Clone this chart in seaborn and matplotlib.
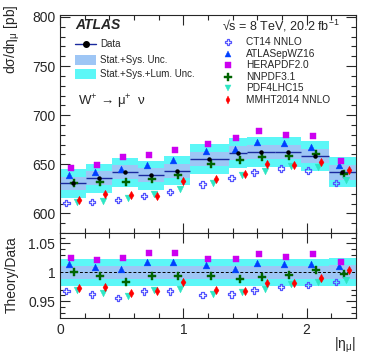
import numpy as np
import pandas as pd
import matplotlib
matplotlib.use("Agg")
import matplotlib.pyplot as plt
from matplotlib.lines import Line2D
from matplotlib.patches import Rectangle
from matplotlib.ticker import MultipleLocator
import seaborn as sns

# |eta_mu| binning and measured W+ -> mu+ nu cross section [pb]
eta_edges = [0.0, 0.21, 0.42, 0.63, 0.84, 1.05, 1.37, 1.52, 1.74, 1.95, 2.18, 2.4]
data_xsec = [630.6, 635.7, 641.8, 638.7, 643.2, 655.1, 661.2, 662.4, 662.2, 658.2, 641.9]
# relative uncertainties
unc_stat_sys = [0.011, 0.011, 0.011, 0.011, 0.011, 0.011, 0.011, 0.011, 0.011, 0.011, 0.012]
unc_stat_sys_lumi = [0.023, 0.023, 0.023, 0.023, 0.023, 0.023, 0.023, 0.023, 0.023, 0.023, 0.024]

# theory / data
ratio_ct14 = [0.968, 0.962, 0.956, 0.967, 0.967, 0.961, 0.962, 0.969, 0.975, 0.978, 0.983]
ratio_atlas = [1.014, 1.010, 1.005, 1.017, 1.018, 1.013, 1.006, 1.016, 1.014, 1.014, 1.011]
ratio_hera = [1.025, 1.022, 1.024, 1.033, 1.033, 1.023, 1.023, 1.032, 1.026, 1.031, 1.018]
ratio_nnpdf = [1.000, 0.994, 0.984, 0.994, 0.993, 0.993, 0.989, 0.992, 0.995, 1.004, 0.997]
ratio_pdf4lhc = [0.970, 0.964, 0.959, 0.970, 0.971, 0.963, 0.966, 0.971, 0.979, 0.983, 0.987]
ratio_mmht = [0.973, 0.975, 0.964, 0.967, 0.984, 0.969, 0.968, 0.982, 0.981, 0.991, 1.004]

pdf_names = ["CT14 NNLO", "ATLASepWZ16", "HERAPDF2.0", "NNPDF3.1", "PDF4LHC15", "MMHT2014 NNLO"]
pdf_ratios = [ratio_ct14, ratio_atlas, ratio_hera, ratio_nnpdf, ratio_pdf4lhc, ratio_mmht]

# styling per prediction: marker, colour, size, x offset, hollow
pdf_styles = {
    "CT14 NNLO": ("P", "#5555ff", 22, -0.054, True),
    "ATLASepWZ16": ("^", "#0040ff", 24, -0.030, False),
    "HERAPDF2.0": ("s", "#cc00f0", 20, -0.014, False),
    "NNPDF3.1": ("P", "#006400", 26, 0.011, False),
    "PDF4LHC15": ("v", "#2ee6c4", 24, 0.030, False),
    "MMHT2014 NNLO": ("d", "#ff0000", 18, 0.051, False),
}

COL_SYS = "#9ec6f5"
COL_TOT = "#5cf7f7"
COL_DATA = "#1a2a9e"

sns.set_style("ticks")
plt.rcParams["font.family"] = ["Liberation Sans", "DejaVu Sans"]
plt.rcParams["mathtext.fontset"] = "custom"
plt.rcParams["mathtext.rm"] = "Liberation Sans"
plt.rcParams["mathtext.it"] = "Liberation Sans:italic"

edges = np.array(eta_edges)
lo, hi = edges[:-1], edges[1:]
width = np.diff(edges)
centers = 0.5 * (lo + hi)
data = np.array(data_xsec)
e_sys = np.array(unc_stat_sys)
e_tot = np.array(unc_stat_sys_lumi)

rows = []
for name, ratios in zip(pdf_names, pdf_ratios):
    for c, r, d in zip(centers, ratios, data):
        rows.append({"pdf": name, "eta": c + pdf_styles[name][3], "ratio": r, "xsec": r * d})
df = pd.DataFrame(rows)

W, H = 374, 359
fig = plt.figure(figsize=(W / 100, H / 100), dpi=100)
L, R = 60 / W, 356 / W
ax = fig.add_axes([L, 1 - 233 / H, R - L, (233 - 15) / H])
axr = fig.add_axes([L, 1 - 318 / H, R - L, (318 - 233) / H])

# ---- top panel ----
ax.bar(lo, 2 * e_tot * data, bottom=data * (1 - e_tot), width=width, align="edge",
       color=COL_TOT, linewidth=0, zorder=1)
ax.bar(lo, 2 * e_sys * data, bottom=data * (1 - e_sys), width=width, align="edge",
       color=COL_SYS, linewidth=0, zorder=2)
ax.hlines(data, lo, hi, color=COL_DATA, linewidth=1.0, zorder=3)
ax.plot(centers, data, "o", color="black", markersize=2.2, zorder=6)

# ---- ratio panel ----
axr.bar(lo, 2 * e_tot, bottom=1 - e_tot, width=width, align="edge",
        color=COL_TOT, linewidth=0, zorder=1)
axr.bar(lo, 2 * e_sys, bottom=1 - e_sys, width=width, align="edge",
        color=COL_SYS, linewidth=0, zorder=2)
axr.axhline(1.0, color="black", linestyle=(0, (3, 2)), linewidth=0.7, zorder=3)

for name in pdf_names:
    marker, color, size, _, hollow = pdf_styles[name]
    sub = df[df["pdf"] == name]
    for a, col in [(ax, "xsec"), (axr, "ratio")]:
        if hollow:
            a.scatter(sub["eta"], sub[col], marker=marker, s=size, facecolors="none",
                      edgecolors=color, linewidths=0.9, zorder=5)
        else:
            sns.scatterplot(x=sub["eta"], y=sub[col], ax=a, marker=marker, s=size,
                            color=color, edgecolor=color, linewidth=0.3, zorder=5, legend=False)

for a in (ax, axr):
    a.set_xlim(0, 2.4)
    a.xaxis.set_major_locator(MultipleLocator(1))
    a.xaxis.set_minor_locator(MultipleLocator(0.2))
    a.tick_params(which="both", direction="in", top=True, right=True, labelsize=10, width=0.8)
    a.tick_params(which="major", length=7)
    a.tick_params(which="minor", length=3.5)
    for s in a.spines.values():
        s.set_linewidth(0.8)
    a.set_xlabel("")
    a.set_ylabel("")

ax.set_ylim(580, 802)
ax.yaxis.set_major_locator(MultipleLocator(50))
ax.yaxis.set_minor_locator(MultipleLocator(10))
ax.tick_params(labelbottom=False)

axr.set_ylim(0.921, 1.068)
axr.yaxis.set_major_locator(MultipleLocator(0.05))
axr.yaxis.set_minor_locator(MultipleLocator(0.01))
axr.set_yticks([0.95, 1.0, 1.05])
axr.set_yticklabels(["0.95", "1", "1.05"])
axr.set_xticks([0, 1, 2])
axr.set_xticklabels(["0", "1", "2"])


def fx(px):
    return px / W


def fy(py):
    return 1 - py / H


# axis titles
fig.text(fx(12), fy(4), r"dσ/dη$_{\mathregular{μ}}$ [pb]", rotation=90, ha="center", va="top", fontsize=10)
fig.text(fx(12), fy(236), "Theory/Data", rotation=90, ha="center", va="top", fontsize=10)
fig.text(fx(356), fy(345), r"|η$_{\mathregular{μ}}$|", ha="right", va="center", fontsize=10)

# left legend block
fig.text(fx(75), fy(25), "ATLAS", fontsize=10, fontweight="bold", fontstyle="italic", va="center")
fig.add_artist(Line2D([fx(75), fx(96)], [fy(44), fy(44)], color=COL_DATA, lw=1.0))
fig.add_artist(Line2D([fx(86)], [fy(44)], marker="o", color="black", markersize=4))
fig.text(fx(100), fy(44), "Data", fontsize=7, va="center")
fig.add_artist(Rectangle((fx(75), fy(65)), fx(21), 10 / H, color=COL_SYS, lw=0))
fig.text(fx(100), fy(60), "Stat.+Sys. Unc.", fontsize=7, va="center")
fig.add_artist(Rectangle((fx(75), fy(79)), fx(21), 10 / H, color=COL_TOT, lw=0))
fig.text(fx(100), fy(74), "Stat.+Sys.+Lum. Unc.", fontsize=7, va="center")
fig.text(fx(78), fy(102), r"W$^{+}$ → μ$^{+}$  ν", fontsize=9.5, va="center")

# right legend block
fig.text(fx(340), fy(26), r"√s = 8 TeV, 20.2 fb$^{\mathregular{-1}}$", fontsize=9, ha="right", va="center")
for i, name in enumerate(pdf_names):
    marker, color, size, _, hollow = pdf_styles[name]
    yy = fy(42 + 11.6 * i)
    fig.add_artist(Line2D([fx(228)], [yy], marker=marker, linestyle="none",
                          markersize=np.sqrt(size),
                          markerfacecolor="none" if hollow else color,
                          markeredgecolor=color, markeredgewidth=0.9 if hollow else 0.3))
    fig.text(fx(246), yy, name, fontsize=7.3, va="center")

fig.savefig("out.png", dpi=100)
